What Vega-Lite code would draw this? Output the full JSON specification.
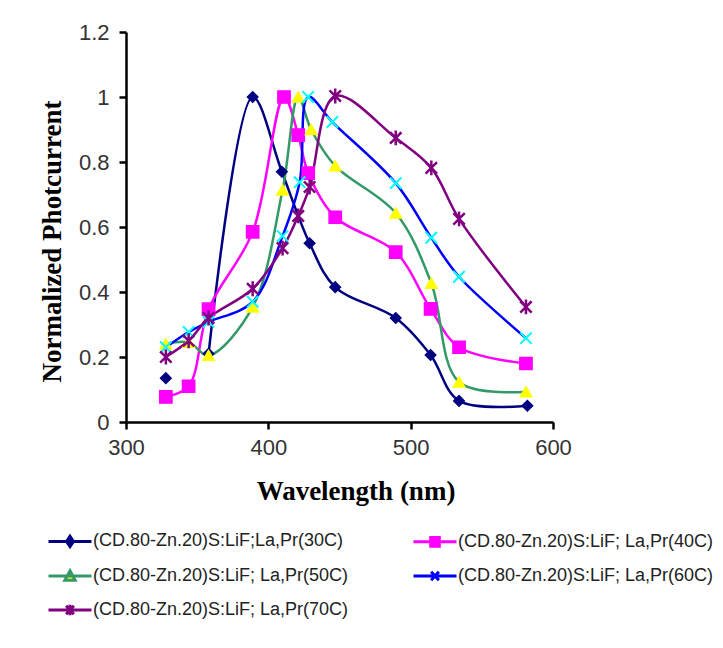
{
  "$schema": "https://vega.github.io/schema/vega-lite/v6.json",
  "width": 427,
  "height": 390,
  "autosize": {"type": "none"},
  "padding": {"left": 126, "top": 32, "right": 170, "bottom": 226},
  "background": "white",
  "config": {"view": {"stroke": null}, "font": "Liberation Sans"},
  "data": {
    "values": [
      {"series": "(CD.80-Zn.20)S:LiF;La,Pr(30C)", "wavelength": 328, "photocurrent": 0.135, "line": false},
      {"series": "(CD.80-Zn.20)S:LiF;La,Pr(30C)", "wavelength": 358, "photocurrent": 0.21},
      {"series": "(CD.80-Zn.20)S:LiF;La,Pr(30C)", "wavelength": 389, "photocurrent": 1.0},
      {"series": "(CD.80-Zn.20)S:LiF;La,Pr(30C)", "wavelength": 409.5, "photocurrent": 0.77},
      {"series": "(CD.80-Zn.20)S:LiF;La,Pr(30C)", "wavelength": 429, "photocurrent": 0.55},
      {"series": "(CD.80-Zn.20)S:LiF;La,Pr(30C)", "wavelength": 447, "photocurrent": 0.415},
      {"series": "(CD.80-Zn.20)S:LiF;La,Pr(30C)", "wavelength": 489.5, "photocurrent": 0.32},
      {"series": "(CD.80-Zn.20)S:LiF;La,Pr(30C)", "wavelength": 514, "photocurrent": 0.206},
      {"series": "(CD.80-Zn.20)S:LiF;La,Pr(30C)", "wavelength": 534, "photocurrent": 0.065},
      {"series": "(CD.80-Zn.20)S:LiF;La,Pr(30C)", "wavelength": 582, "photocurrent": 0.05},

      {"series": "(CD.80-Zn.20)S:LiF; La,Pr(40C)", "wavelength": 328, "photocurrent": 0.077},
      {"series": "(CD.80-Zn.20)S:LiF; La,Pr(40C)", "wavelength": 344, "photocurrent": 0.11},
      {"series": "(CD.80-Zn.20)S:LiF; La,Pr(40C)", "wavelength": 358, "photocurrent": 0.347},
      {"series": "(CD.80-Zn.20)S:LiF; La,Pr(40C)", "wavelength": 389, "photocurrent": 0.585},
      {"series": "(CD.80-Zn.20)S:LiF; La,Pr(40C)", "wavelength": 411, "photocurrent": 1.0},
      {"series": "(CD.80-Zn.20)S:LiF; La,Pr(40C)", "wavelength": 421, "photocurrent": 0.883},
      {"series": "(CD.80-Zn.20)S:LiF; La,Pr(40C)", "wavelength": 428, "photocurrent": 0.766},
      {"series": "(CD.80-Zn.20)S:LiF; La,Pr(40C)", "wavelength": 447, "photocurrent": 0.63},
      {"series": "(CD.80-Zn.20)S:LiF; La,Pr(40C)", "wavelength": 489.5, "photocurrent": 0.523},
      {"series": "(CD.80-Zn.20)S:LiF; La,Pr(40C)", "wavelength": 514, "photocurrent": 0.348},
      {"series": "(CD.80-Zn.20)S:LiF; La,Pr(40C)", "wavelength": 534, "photocurrent": 0.23},
      {"series": "(CD.80-Zn.20)S:LiF; La,Pr(40C)", "wavelength": 581, "photocurrent": 0.18},

      {"series": "(CD.80-Zn.20)S:LiF; La,Pr(50C)", "wavelength": 328, "photocurrent": 0.24},
      {"series": "(CD.80-Zn.20)S:LiF; La,Pr(50C)", "wavelength": 344, "photocurrent": 0.245},
      {"series": "(CD.80-Zn.20)S:LiF; La,Pr(50C)", "wavelength": 358, "photocurrent": 0.205},
      {"series": "(CD.80-Zn.20)S:LiF; La,Pr(50C)", "wavelength": 389, "photocurrent": 0.354},
      {"series": "(CD.80-Zn.20)S:LiF; La,Pr(50C)", "wavelength": 410, "photocurrent": 0.714},
      {"series": "(CD.80-Zn.20)S:LiF; La,Pr(50C)", "wavelength": 421, "photocurrent": 1.0},
      {"series": "(CD.80-Zn.20)S:LiF; La,Pr(50C)", "wavelength": 430, "photocurrent": 0.9},
      {"series": "(CD.80-Zn.20)S:LiF; La,Pr(50C)", "wavelength": 447, "photocurrent": 0.788},
      {"series": "(CD.80-Zn.20)S:LiF; La,Pr(50C)", "wavelength": 489.5, "photocurrent": 0.643},
      {"series": "(CD.80-Zn.20)S:LiF; La,Pr(50C)", "wavelength": 514.5, "photocurrent": 0.427},
      {"series": "(CD.80-Zn.20)S:LiF; La,Pr(50C)", "wavelength": 534, "photocurrent": 0.123},
      {"series": "(CD.80-Zn.20)S:LiF; La,Pr(50C)", "wavelength": 581, "photocurrent": 0.093},

      {"series": "(CD.80-Zn.20)S:LiF; La,Pr(60C)", "wavelength": 328, "photocurrent": 0.23},
      {"series": "(CD.80-Zn.20)S:LiF; La,Pr(60C)", "wavelength": 344, "photocurrent": 0.277},
      {"series": "(CD.80-Zn.20)S:LiF; La,Pr(60C)", "wavelength": 358, "photocurrent": 0.308},
      {"series": "(CD.80-Zn.20)S:LiF; La,Pr(60C)", "wavelength": 389, "photocurrent": 0.37},
      {"series": "(CD.80-Zn.20)S:LiF; La,Pr(60C)", "wavelength": 410, "photocurrent": 0.572},
      {"series": "(CD.80-Zn.20)S:LiF; La,Pr(60C)", "wavelength": 422, "photocurrent": 0.738},
      {"series": "(CD.80-Zn.20)S:LiF; La,Pr(60C)", "wavelength": 428, "photocurrent": 1.0},
      {"series": "(CD.80-Zn.20)S:LiF; La,Pr(60C)", "wavelength": 445, "photocurrent": 0.923},
      {"series": "(CD.80-Zn.20)S:LiF; La,Pr(60C)", "wavelength": 489.5, "photocurrent": 0.735},
      {"series": "(CD.80-Zn.20)S:LiF; La,Pr(60C)", "wavelength": 514.5, "photocurrent": 0.567},
      {"series": "(CD.80-Zn.20)S:LiF; La,Pr(60C)", "wavelength": 534, "photocurrent": 0.447},
      {"series": "(CD.80-Zn.20)S:LiF; La,Pr(60C)", "wavelength": 581, "photocurrent": 0.258},

      {"series": "(CD.80-Zn.20)S:LiF; La,Pr(70C)", "wavelength": 328, "photocurrent": 0.2},
      {"series": "(CD.80-Zn.20)S:LiF; La,Pr(70C)", "wavelength": 344, "photocurrent": 0.25},
      {"series": "(CD.80-Zn.20)S:LiF; La,Pr(70C)", "wavelength": 358, "photocurrent": 0.32},
      {"series": "(CD.80-Zn.20)S:LiF; La,Pr(70C)", "wavelength": 389, "photocurrent": 0.41},
      {"series": "(CD.80-Zn.20)S:LiF; La,Pr(70C)", "wavelength": 410, "photocurrent": 0.535},
      {"series": "(CD.80-Zn.20)S:LiF; La,Pr(70C)", "wavelength": 421, "photocurrent": 0.634},
      {"series": "(CD.80-Zn.20)S:LiF; La,Pr(70C)", "wavelength": 429, "photocurrent": 0.723},
      {"series": "(CD.80-Zn.20)S:LiF; La,Pr(70C)", "wavelength": 447, "photocurrent": 1.003},
      {"series": "(CD.80-Zn.20)S:LiF; La,Pr(70C)", "wavelength": 489.5, "photocurrent": 0.874},
      {"series": "(CD.80-Zn.20)S:LiF; La,Pr(70C)", "wavelength": 514.5, "photocurrent": 0.782},
      {"series": "(CD.80-Zn.20)S:LiF; La,Pr(70C)", "wavelength": 534, "photocurrent": 0.625},
      {"series": "(CD.80-Zn.20)S:LiF; La,Pr(70C)", "wavelength": 581, "photocurrent": 0.354}
    ]
  },
  "encoding": {
    "x": {
      "field": "wavelength", "type": "quantitative",
      "scale": {"domain": [300, 600], "nice": false, "zero": false},
      "axis": {
        "title": "Wavelength (nm)", "values": [300, 400, 500, 600], "format": "d",
        "labelFlush": false, "labelOverlap": false,
        "labelFont": "Liberation Sans", "labelFontSize": 22, "labelColor": "#333",
        "labelPadding": 8, "tickSize": 7, "tickWidth": 2.5, "tickColor": "black",
        "domainColor": "black", "domainWidth": 2.5, "grid": false,
        "titleFont": "Liberation Serif", "titleFontSize": 27, "titleFontWeight": "bold",
        "titleColor": "black", "titlePadding": 20, "titleX": 229.5
      }
    },
    "y": {
      "field": "photocurrent", "type": "quantitative",
      "scale": {"domain": [0, 1.2], "nice": false},
      "axis": {
        "title": "Normalized Photcurrent", "values": [0, 0.2, 0.4, 0.6, 0.8, 1, 1.2], "format": "~g",
        "labelFlush": false, "labelOverlap": false,
        "labelFont": "Liberation Sans", "labelFontSize": 22, "labelColor": "#333",
        "labelPadding": 10, "tickSize": 7, "tickWidth": 2.5, "tickColor": "black",
        "domainColor": "black", "domainWidth": 2.5, "grid": false,
        "titleFont": "Liberation Serif", "titleFontSize": 27, "titleFontWeight": "bold",
        "titleColor": "black", "titlePadding": 12, "titleY": 209
      }
    }
  },
  "layer": [
    {
      "transform": [{"filter": "datum.line !== false"}],
      "mark": {"type": "line", "interpolate": "catmull-rom", "strokeWidth": 2.5},
      "encoding": {
        "color": {
          "field": "series", "type": "nominal",
          "scale": {
            "domain": ["(CD.80-Zn.20)S:LiF;La,Pr(30C)", "(CD.80-Zn.20)S:LiF; La,Pr(40C)", "(CD.80-Zn.20)S:LiF; La,Pr(50C)", "(CD.80-Zn.20)S:LiF; La,Pr(60C)", "(CD.80-Zn.20)S:LiF; La,Pr(70C)"],
            "range": ["#000080", "#FF00FF", "#339966", "#0000FF", "#800080"]
          },
          "legend": {
            "values": ["(CD.80-Zn.20)S:LiF;La,Pr(30C)", "(CD.80-Zn.20)S:LiF; La,Pr(50C)", "(CD.80-Zn.20)S:LiF; La,Pr(70C)", "(CD.80-Zn.20)S:LiF; La,Pr(40C)", "(CD.80-Zn.20)S:LiF; La,Pr(60C)"],
            "orient": "none", "legendX": -79, "legendY": 486, "columns": 2,
            "title": null, "padding": 0, "symbolSize": 1849, "symbolStrokeWidth": 3,
            "labelFont": "Liberation Sans", "labelFontSize": 18, "labelColor": "#222",
            "labelOffset": 0, "labelLimit": 400, "rowPadding": 0, "columnPadding": 58,
            "encode": {
              "symbols": {
                "update": {
                  "shape": {"signal": "indexof(datum.label,'30C')>=0?'M-1,0L1,0M0,-0.24L0.16,0L0,0.24L-0.16,0Z':indexof(datum.label,'40C')>=0?'M-1,0L1,0M-0.2,-0.2L0.2,-0.2L0.2,0.2L-0.2,0.2Z':indexof(datum.label,'50C')>=0?'M-1,0L1,0M0,-0.24L0.24,0.2L-0.24,0.2Z':indexof(datum.label,'60C')>=0?'M-1,0L1,0M-0.18,-0.2L0.18,0.2M-0.18,0.2L0.18,-0.2':'M-1,0L1,0M-0.18,-0.2L0.18,0.2M-0.18,0.2L0.18,-0.2M0,-0.24L0,0.24'"},
                  "fill": {"signal": "indexof(datum.label,'30C')>=0?'#000080':indexof(datum.label,'40C')>=0?'#FF00FF':indexof(datum.label,'50C')>=0?'#FFFF00':indexof(datum.label,'60C')>=0?'#00FFFF':'#800080'"},
                  "size": {"value": 1849},
                  "opacity": {"value": 1}
                }
              }
            }
          }
        }
      }
    },
    {
      "transform": [{"filter": "datum.series === '(CD.80-Zn.20)S:LiF;La,Pr(30C)'"}],
      "mark": {"type": "point", "shape": "diamond", "filled": true, "color": "#000080", "stroke": "#000080", "strokeWidth": 1.5, "size": 110, "opacity": 1}
    },
    {
      "transform": [{"filter": "datum.series === '(CD.80-Zn.20)S:LiF; La,Pr(40C)'"}],
      "mark": {"type": "point", "shape": "square", "filled": true, "color": "#FF00FF", "stroke": "#FF00FF", "strokeWidth": 1.5, "size": 150, "opacity": 1}
    },
    {
      "transform": [{"filter": "datum.series === '(CD.80-Zn.20)S:LiF; La,Pr(50C)'"}],
      "mark": {"type": "point", "shape": "triangle-up", "filled": true, "color": "#FFFF00", "stroke": "#FFFF00", "strokeWidth": 1.5, "size": 130, "opacity": 1}
    },
    {
      "transform": [{"filter": "datum.series === '(CD.80-Zn.20)S:LiF; La,Pr(60C)'"}],
      "mark": {"type": "point", "shape": "M-1,-1L1,1M-1,1L1,-1", "filled": false, "stroke": "#00FFFF", "strokeWidth": 2, "size": 130, "opacity": 1}
    },
    {
      "transform": [{"filter": "datum.series === '(CD.80-Zn.20)S:LiF; La,Pr(70C)'"}],
      "mark": {"type": "point", "shape": "M-1,-1L1,1M-1,1L1,-1M0,-1.3L0,1.3", "filled": false, "stroke": "#800080", "strokeWidth": 2.5, "size": 130, "opacity": 1}
    }
  ]
}
